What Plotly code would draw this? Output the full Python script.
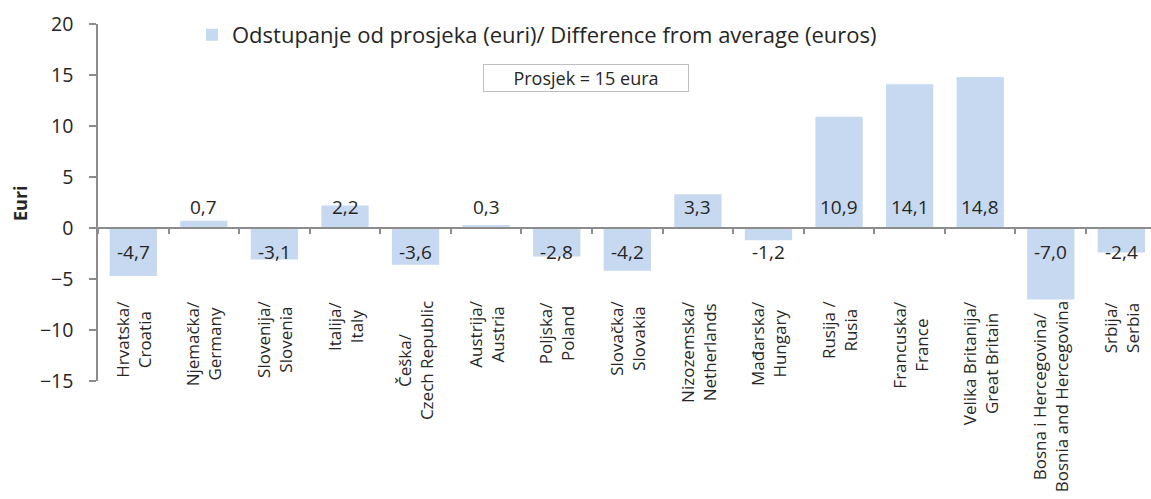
import plotly.graph_objects as go

categories = [
    "Hrvatska/<br>Croatia", "Njemačka/<br>Germany", "Slovenija/<br>Slovenia",
    "Italija/<br>Italy", "Češka/<br>Czech Republic", "Austrija/<br>Austria",
    "Poljska/<br>Poland", "Slovačka/<br>Slovakia", "Nizozemska/<br>Netherlands",
    "Mađarska/<br>Hungary", "Rusija /<br>Rusia", "Francuska/<br>France",
    "Velika Britanija/<br>Great Britain", "Bosna i Hercegovina/<br>Bosnia and Hercegovina",
    "Srbija/<br>Serbia",
]
values = [-4.7, 0.7, -3.1, 2.2, -3.6, 0.3, -2.8, -4.2, 3.3, -1.2, 10.9, 14.1, 14.8, -7.0, -2.4]
series_name = "Odstupanje od prosjeka (euri)/ Difference from average (euros)"
note_text = "Prosjek = 15 eura"
y_title = "Euri"
y_ticks = [-15, -10, -5, 0, 5, 10, 15, 20]

FONT = "Open Sans"
TXT = "#262626"
BAR = "#c6d9f0"
AX = "#8c8c8c"

fig = go.Figure()
fig.add_trace(go.Bar(
    x=categories, y=values, name=series_name,
    marker=dict(color=BAR, line=dict(width=0)),
    width=0.67, showlegend=True, hoverinfo="skip",
))

annotations = []
# data labels
for c, v in zip(categories, values):
    lab = f"{v:.1f}".replace(".", ",")
    annotations.append(dict(
        x=c, y=0, xref="x", yref="y", text=lab, showarrow=False,
        yanchor="middle", yshift=21 if v > 0 else -24,
        font=dict(family=FONT, size=19, color=TXT),
    ))
# category labels (rotated)
for c in categories:
    annotations.append(dict(
        x=c, y=(381 - 299) / 357, xref="x", yref="paper", text=c, showarrow=False,
        textangle=-90, xanchor="center", yanchor="top", align="center",
        font=dict(family=FONT, size=17, color=TXT),
    ))
# y title
annotations.append(dict(
    x=(20 - 98) / 1053, y=2.45, xref="paper", yref="y", text=f"<b>{y_title}</b>",
    showarrow=False, textangle=-90, xanchor="center", yanchor="middle",
    font=dict(family=FONT, size=18, color=TXT),
))
# note box
annotations.append(dict(
    x=(586 - 98) / 1053, y=(381 - 78) / 357, xref="paper", yref="paper",
    text=note_text, showarrow=False, xanchor="center", yanchor="middle",
    bordercolor="#bfbfbf", borderwidth=1, borderpad=2, bgcolor="white",
    width=200, height=22,
    font=dict(family=FONT, size=18, color=TXT),
))

fig.update_layout(
    width=1151, height=499,
    margin=dict(l=98, r=0, t=24, b=118, pad=0),
    paper_bgcolor="white", plot_bgcolor="white",
    bargap=0.33,
    font=dict(family=FONT, color=TXT),
    legend=dict(
        x=(192 - 98) / 1053, y=(381 - 35) / 357, xanchor="left", yanchor="middle",
        bgcolor="rgba(0,0,0,0)", font=dict(family=FONT, size=22, color=TXT),
    ),
    annotations=annotations,
    xaxis=dict(
        type="category", range=[-0.5, 14.42], showticklabels=False,
        showline=True, linecolor=AX, linewidth=1.5,
        ticks="outside", tickson="boundaries", ticklen=5, tickcolor=AX, tickwidth=1.5,
        anchor="free", position=15 / 35, showgrid=False, zeroline=False,
    ),
    yaxis=dict(
        range=[-15, 20], tickvals=y_ticks, showline=True, linecolor=AX, linewidth=1.5,
        ticks="outside", ticklen=7, tickcolor=AX, tickwidth=1.5,
        showgrid=False, zeroline=False, ticklabelstandoff=12,
        tickfont=dict(family=FONT, size=19.5, color=TXT),
    ),
)

fig.write_html("out.html", config={"displayModeBar": False},
               post_script="document.body.style.margin='0';")
